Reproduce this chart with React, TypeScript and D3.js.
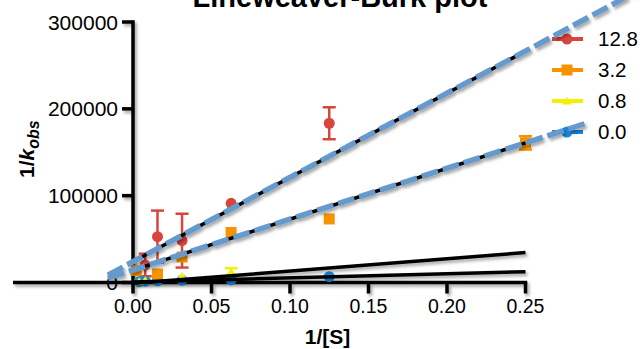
import React from "react";
import * as d3 from "d3";

const W = 643;
const H = 349;

const xTicks = [0, 0.05, 0.1, 0.15, 0.2, 0.25];
const yTicks = [0, 100000, 200000, 300000];

const seriesNames = ["12.8", "3.2", "0.8", "0.0"];
const seriesColors = ["#d8453c", "#f79200", "#f2f200", "#1a88dc"];

// observed points: [x, y, err]
const pts128: [number, number, number][] = [
  [0.0078, 20200, 13000],
  [0.0156, 52800, 30000],
  [0.03125, 48200, 31000],
  [0.0625, 91200, 0],
  [0.125, 183400, 18400],
];
const pts32: [number, number, number][] = [
  [0.002, 13800, 0],
  [0.0156, 9800, 0],
  [0.03125, 29400, 0],
  [0.0625, 57600, 0],
  [0.125, 73200, 0],
  [0.25, 160800, 7700],
];
const pts08: [number, number, number][] = [
  [0.0039, 1500, 0],
  [0.0078, 2500, 0],
  [0.0156, 3500, 0],
  [0.03125, 7500, 0],
  [0.0625, 12000, 4500],
];
const pts00: [number, number, number][] = [
  [0.0039, 1000, 0],
  [0.0078, 1500, 0],
  [0.0156, 2000, 0],
  [0.03125, 2500, 0],
  [0.0625, 3000, 0],
  [0.125, 6700, 0],
];

// fitted lines: [intercept, slope]
const fit128: [number, number] = [24000, 970000];
const fit32: [number, number] = [14300, 586000];
const fit08: [number, number] = [-1000, 142000];
const fit00: [number, number] = [500, 47800];

const blackRange: [number, number] = [0, 0.25];
const dashRange128: [number, number] = [-0.016, 0.32];
const dashRange32: [number, number] = [-0.016, 0.29];

export default function App() {
  const x = d3.scaleLinear().domain([0, 0.25]).range([133, 525.5]);
  const y = d3.scaleLinear().domain([0, 300000]).range([282.5, 22]);
  const line = d3
    .line<[number, number]>()
    .x((d) => x(d[0]))
    .y((d) => y(d[1]));
  const fitPts = (f: [number, number], r: [number, number]): [number, number][] =>
    r.map((v) => [v, f[0] + f[1] * v] as [number, number]);

  const font = "'Liberation Sans', Arial, Helvetica, sans-serif";

  const marker = (i: number, cx: number, cy: number, key: string) => {
    const c = seriesColors[i];
    if (i === 0) return <circle key={key} cx={cx} cy={cy} r={5.5} fill={c} />;
    if (i === 1) return <rect key={key} x={cx - 5.5} y={cy - 5.5} width={11} height={11} fill={c} />;
    if (i === 2)
      return (
        <path key={key} d={`M${cx},${cy - 4}L${cx + 5},${cy + 3.5}L${cx - 5},${cy + 3.5}Z`} fill={c} />
      );
    return <circle key={key} cx={cx} cy={cy} r={5.5} fill={c} />;
  };

  const allPts = [pts128, pts32, pts08, pts00];

  return (
    <svg
      width={W}
      height={H}
      style={{ position: "absolute", left: 0, top: 0, background: "#fff" }}
      fontFamily={font}
    >
      <defs>
        <filter id="sh" x="-10%" y="-10%" width="120%" height="130%">
          <feDropShadow dx="2" dy="2.5" stdDeviation="1.5" floodColor="#000" floodOpacity="0.35" />
        </filter>
      </defs>
      <rect width={W} height={H} fill="#fff" />

      {/* title */}
      <text x={340} y={7} textAnchor="middle" fontSize={29} fontWeight="bold">
        Lineweaver-Burk plot
      </text>

      {/* y tick labels */}
      {yTicks.map((t) => (
        <text key={t} x={118} y={y(t) + 7.5} textAnchor="end" fontSize={21}>
          {t}
        </text>
      ))}
      {/* x tick labels */}
      {xTicks.map((t) => (
        <text key={t} x={x(t)} y={313} textAnchor="middle" fontSize={19.5}>
          {t.toFixed(2)}
        </text>
      ))}

      {/* axes */}
      <g filter="url(#sh)" stroke="#000" strokeWidth={3.5} fill="none">
        <line x1={13} x2={x(0.25) + 1.75} y1={y(0)} y2={y(0)} />
        <line x1={x(0)} x2={x(0)} y1={y(300000) - 1.75} y2={y(0)} />
        {yTicks.map((t) => (
          <line key={t} x1={x(0) - 11} x2={x(0)} y1={y(t)} y2={y(t)} />
        ))}
        {xTicks.map((t) => (
          <line key={t} x1={x(t)} x2={x(t)} y1={y(0)} y2={y(0) + 11} />
        ))}
      </g>

      {/* axis titles */}
      <text x={327.5} y={344} textAnchor="middle" fontSize={21} fontWeight="bold">
        1/[S]
      </text>
      <text transform="translate(34,178) rotate(-90)" fontSize={21} fontWeight="bold">
        1/<tspan fontStyle="italic">k</tspan>
        <tspan fontSize={16} fontStyle="italic" dy={5}>
          obs
        </tspan>
      </text>

      {/* error bars */}
      {allPts.map((ps, i) =>
        ps
          .filter((p) => p[2] > 0)
          .map((p, j) => (
            <g key={`e${i}-${j}`} stroke={seriesColors[i]} strokeWidth={2.5}>
              <line x1={x(p[0])} x2={x(p[0])} y1={y(p[1] - p[2])} y2={y(p[1] + p[2])} />
              <line x1={x(p[0]) - 6.5} x2={x(p[0]) + 6.5} y1={y(p[1] + p[2])} y2={y(p[1] + p[2])} />
              <line x1={x(p[0]) - 6.5} x2={x(p[0]) + 6.5} y1={y(p[1] - p[2])} y2={y(p[1] - p[2])} />
            </g>
          ))
      )}

      {/* points */}
      {[3, 2, 1, 0].map((i) => allPts[i].map((p, j) => marker(i, x(p[0]), y(p[1]), `p${i}-${j}`)))}

      {/* legend */}
      {seriesNames.map((n, i) => {
        const ly = 39 + i * 31;
        return (
          <g key={n}>
            <line x1={552} x2={583} y1={ly} y2={ly} stroke={seriesColors[i]} strokeWidth={4} />
            {marker(i, 567, ly, `lm${i}`)}
            <text x={598} y={ly + 7.3} fontSize={20.5}>
              {n}
            </text>
          </g>
        );
      })}

      {/* fit lines */}
      <g filter="url(#sh)" fill="none">
        {[fit128, fit32, fit08, fit00].map((f, i) => (
          <path key={`b${i}`} d={line(fitPts(f, blackRange)) || ""} stroke="#000" strokeWidth={3.5} />
        ))}
        <path
          d={line(fitPts(fit128, dashRange128)) || ""}
          stroke="#6699cc"
          strokeWidth={5.5}
          strokeDasharray="17 5"
        />
        <path
          d={line(fitPts(fit32, dashRange32)) || ""}
          stroke="#6699cc"
          strokeWidth={5.5}
          strokeDasharray="17 5"
        />
      </g>
    </svg>
  );
}
